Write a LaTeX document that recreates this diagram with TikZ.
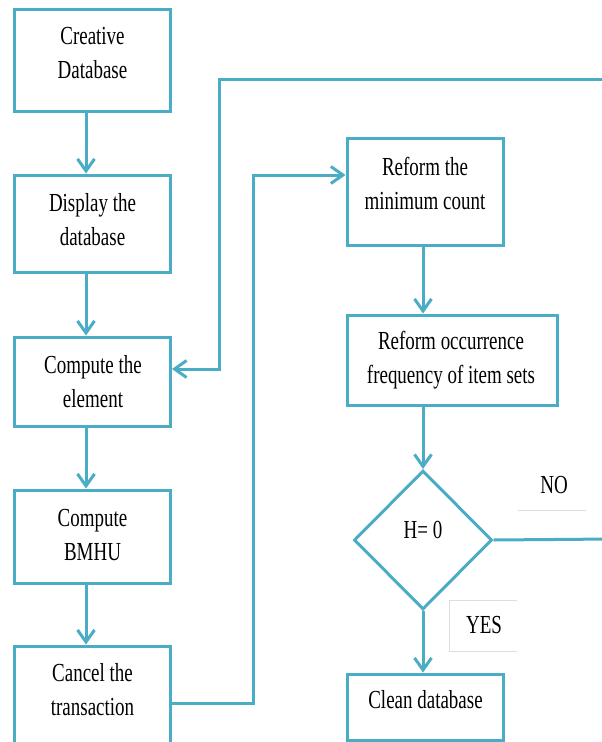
\documentclass[tikz,border=0pt]{standalone}
\usepackage{fontspec}
\setmainfont{Liberation Serif}[FakeStretch=0.73]
\usetikzlibrary{arrows.meta,shapes.geometric}
\definecolor{flow}{RGB}{75,172,198}
\definecolor{faint}{RGB}{222,222,222}
\begin{document}
\begin{tikzpicture}[x=1pt,y=-1pt,
  box/.style={draw=flow, line width=3pt, rectangle, inner sep=0pt},
  dia/.style={draw=flow, line width=3pt, diamond, inner sep=0pt},
  txt/.style={align=center, inner sep=0pt, font=\fontsize{26}{34}\selectfont},
  flowline/.style={draw=flow, line width=3pt},
  arr/.style={flowline, -{Straight Barb[length=12pt,width=17pt]}}
]
\useasboundingbox (0,0) rectangle (602,742);
\clip (0,0) rectangle (602,742);

% left column boxes
\node[box, minimum width=156pt, minimum height=102pt] (b1) at (92.5,60) {};
\node[box, minimum width=156pt, minimum height=97pt]  (b2) at (92.5,223.5) {};
\node[box, minimum width=156pt, minimum height=89pt]  (b3) at (92.5,381.5) {};
\node[box, minimum width=156pt, minimum height=93pt]  (b4) at (92.5,536.5) {};
\node[box, minimum width=156pt, minimum height=154pt] (b5) at (92.5,723) {};

% right column
\node[box, minimum width=156pt, minimum height=107pt] (r1) at (425,191.5) {};
\node[box, minimum width=210pt, minimum height=90pt]  (r2) at (452,360) {};
\node[dia, minimum width=138pt, minimum height=139pt] (d)  at (423,540) {};
\node[box, minimum width=156pt, minimum height=66pt]  (r3) at (425,707) {};

% texts
\node[txt] (t1) at (92.5,53) {Creative\\Database};
\node[txt] (t2) at (92.5,220) {Display the\\database};
\node[txt] (t3) at (93,382) {Compute the\\element};
\node[txt] (t4) at (92.5,535) {Compute\\BMHU};
\node[txt] (t5) at (92.5,690) {Cancel the\\transaction};
\node[txt] (tr1) at (425,183) {Reform the\\minimum count};
\node[txt] (tr2) at (451,360) {Reform occurrence\\frequency of item sets};
\node[txt] (tr3) at (425.5,700) {Clean database};
\node[txt] (td) at (423,530) {H= 0};
\node[txt] (no) at (554,485) {NO};
\node[txt] (yes) at (484,625) {YES};

% faint label frames
\draw[faint, line width=0.8pt] (518,510) -- (586,510);
\draw[faint, line width=0.8pt] (517,600) -- (449,600) -- (449,651) -- (517,651);

% vertical arrows
\draw[arr] ([xshift=-6.5pt]b1.south) -- ([xshift=-6.5pt]b2.north);
\draw[arr] ([xshift=-6.5pt]b2.south) -- ([xshift=-6.5pt]b3.north);
\draw[arr] ([xshift=-6.5pt]b3.south) -- ([xshift=-6.5pt]b4.north);
\draw[arr] ([xshift=-6.5pt]b4.south) -- ([xshift=-6.5pt]b5.north);
\draw[arr] ([xshift=-2pt]r1.south) -- ([xshift=-2pt]r1.south |- r2.north);
\draw[arr] (r2.south -| d.north) -- (d.north);
\draw[arr] (d.south) -- (d.south |- r3.north);

% loop from Cancel the transaction to Reform the minimum count
\coordinate (j1) at (253,703);
\coordinate (j2) at (253,175);
\draw[arr] (b5.east |- j1) -- (j1) -- (j2) -- (r1.west |- j2);

% loop from the right edge back to Compute the element
\coordinate (k0) at (612,79);
\coordinate (k1) at (219,79);
\coordinate (k2) at (219,369);
\draw[arr] (k0) -- (k1) -- (k2) -- (b3.east |- k2);

% NO branch
\coordinate (n0) at (612,539);
\draw[flowline] (d.east) -- (n0);
\end{tikzpicture}
\end{document}
